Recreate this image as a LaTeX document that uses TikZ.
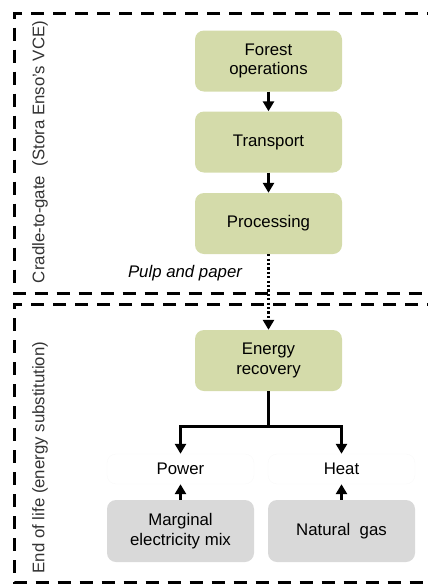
\documentclass[tikz,border=0pt]{standalone}
\usepackage{fontspec}
\setmainfont{Liberation Sans}
\usetikzlibrary{arrows.meta}
\definecolor{boxgreen}{HTML}{D4DBAA}
\definecolor{boxgray}{HTML}{D9D9D9}
\begin{document}
\begin{tikzpicture}[x=1pt,y=-1pt,
  every node/.style={font=\fontsize{16.8}{19.5}\selectfont, align=center},
  greenbox/.style={fill=boxgreen, rounded corners=9pt, minimum width=147pt, minimum height=61pt, inner sep=2pt},
  graybox/.style={fill=boxgray, rounded corners=9pt, minimum width=147pt, minimum height=62pt, inner sep=2pt},
  outbox/.style={fill=white, draw=black!2, rounded corners=9pt, minimum width=147pt, minimum height=30pt, inner sep=1pt},
  region/.style={draw=black, line width=3pt, dash pattern=on 13pt off 9pt},
  flow/.style={draw=black, line width=3pt, -{Triangle[length=10pt,width=11pt]}},
  sidelabel/.style={rotate=90, text=black!80}
]
\useasboundingbox (0,0) rectangle (428,584);
\clip (0,0) rectangle (428,584);
% regions
\draw[region] (440,13.5) -- (14,13.5) -- (14,293) -- (440,293);
\draw[region] (440,304) -- (14,304) -- (14,582.5) -- (440,582.5);
% labels
\node[sidelabel] (lab1) at (40,152) {Cradle-to-gate\ \ (Stora Enso's VCE)};
\node[sidelabel] (lab2) at (40,457.5) {End of life (energy substitution)};
% process boxes
\node[greenbox] (forest) at (268.5,61) {Forest\\operations};
\node[greenbox] (transport) at (268.5,142) {Transport};
\node[greenbox] (processing) at (268.5,223.5) {Processing};
\node[greenbox] (energy) at (268.5,360.5) {Energy\\recovery};
\node[font=\fontsize{16.8}{19.5}\selectfont\itshape] (pulp) at (185,273) {Pulp and paper};
\node[outbox] (power) at (180.5,469) {Power};
\node[outbox] (heat) at (341.5,469) {Heat};
\node[graybox] (marginal) at (180.5,531) {Marginal\\electricity mix};
\node[graybox] (gas) at (341.5,531) {Natural\ \ gas};
\coordinate (split) at (268.5,426.5);
% connectors
\draw[flow] (forest.south) -- (transport.north);
\draw[flow] (transport.south) -- (processing.north);
\draw[flow, dash pattern=on 2.2pt off 2.2pt] (processing.south) -- (energy.north);
\draw[line width=3pt] (energy.south) -- (split);
\draw[flow] (split) -| (power.north);
\draw[flow] (split) -| (heat.north);
\draw[flow] (marginal.north) -- (power.south);
\draw[flow] (gas.north) -- (heat.south);
\end{tikzpicture}
\end{document}
